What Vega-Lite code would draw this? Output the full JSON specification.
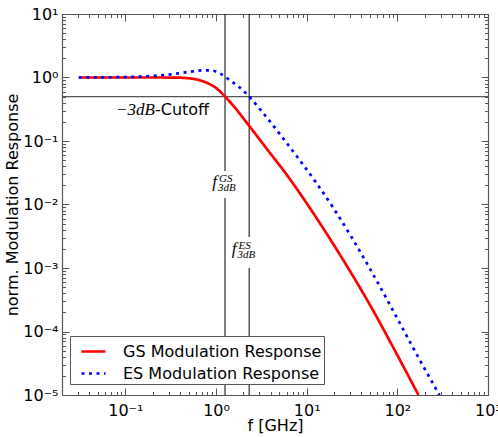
{
  "$schema": "https://vega.github.io/schema/vega-lite/v6.json",
  "width": 426,
  "height": 381,
  "autosize": {"type": "none"},
  "padding": {"left": 62, "top": 14, "right": 10, "bottom": 42},
  "background": "white",
  "config": {"view": {"stroke": null}, "font": "DejaVu Sans"},
  "resolve": {"axis": {"x": "independent", "y": "independent"}},
  "datasets": {
    "curves": [
      {"f": 0.0306, "v": 1.0, "series": "GS Modulation Response"},
      {"f": 0.1995, "v": 1.0, "series": "GS Modulation Response"},
      {"f": 0.355, "v": 0.997, "series": "GS Modulation Response"},
      {"f": 0.462, "v": 0.982, "series": "GS Modulation Response"},
      {"f": 0.597, "v": 0.938, "series": "GS Modulation Response"},
      {"f": 0.769, "v": 0.84, "series": "GS Modulation Response"},
      {"f": 1.0, "v": 0.684, "series": "GS Modulation Response"},
      {"f": 1.259, "v": 0.5, "series": "GS Modulation Response"},
      {"f": 1.585, "v": 0.347, "series": "GS Modulation Response"},
      {"f": 1.995, "v": 0.229, "series": "GS Modulation Response"},
      {"f": 2.512, "v": 0.1496, "series": "GS Modulation Response"},
      {"f": 3.548, "v": 0.0785, "series": "GS Modulation Response"},
      {"f": 6.31, "v": 0.0269, "series": "GS Modulation Response"},
      {"f": 10.0, "v": 0.01047, "series": "GS Modulation Response"},
      {"f": 13.74, "v": 0.00528, "series": "GS Modulation Response"},
      {"f": 25.12, "v": 0.001358, "series": "GS Modulation Response"},
      {"f": 50.12, "v": 0.000259, "series": "GS Modulation Response"},
      {"f": 100, "v": 0.0000424, "series": "GS Modulation Response"},
      {"f": 171, "v": 0.00001, "series": "GS Modulation Response"},
      {"f": 0.0306, "v": 1.0, "series": "ES Modulation Response"},
      {"f": 0.1, "v": 1.016, "series": "ES Modulation Response"},
      {"f": 0.1995, "v": 1.059, "series": "ES Modulation Response"},
      {"f": 0.3162, "v": 1.122, "series": "ES Modulation Response"},
      {"f": 0.5012, "v": 1.225, "series": "ES Modulation Response"},
      {"f": 0.7079, "v": 1.294, "series": "ES Modulation Response"},
      {"f": 0.8913, "v": 1.288, "series": "ES Modulation Response"},
      {"f": 1.122, "v": 1.148, "series": "ES Modulation Response"},
      {"f": 1.393, "v": 0.923, "series": "ES Modulation Response"},
      {"f": 1.799, "v": 0.708, "series": "ES Modulation Response"},
      {"f": 2.317, "v": 0.5, "series": "ES Modulation Response"},
      {"f": 3.162, "v": 0.2992, "series": "ES Modulation Response"},
      {"f": 5.012, "v": 0.1306, "series": "ES Modulation Response"},
      {"f": 8.26, "v": 0.0513, "series": "ES Modulation Response"},
      {"f": 12.59, "v": 0.02254, "series": "ES Modulation Response"},
      {"f": 19.95, "v": 0.00857, "series": "ES Modulation Response"},
      {"f": 31.62, "v": 0.00297, "series": "ES Modulation Response"},
      {"f": 50.12, "v": 0.000962, "series": "ES Modulation Response"},
      {"f": 88.1, "v": 0.000224, "series": "ES Modulation Response"},
      {"f": 158.5, "v": 0.0000473, "series": "ES Modulation Response"},
      {"f": 291, "v": 0.00001, "series": "ES Modulation Response"}
    ]
  },
  "layer": [
    {
      "data": {"values": [{}]},
      "mark": {"type": "rule", "color": "#555555", "strokeWidth": 1.2},
      "encoding": {"y": {"datum": 0.5, "type": "quantitative", "scale": {"type": "log", "domain": [0.00001, 10], "nice": false}, "axis": null}}
    },
    {
      "data": {"values": [{}]},
      "mark": {"type": "rule", "color": "black", "strokeWidth": 1},
      "encoding": {"x": {"datum": 1.257, "type": "quantitative", "scale": {"type": "log", "domain": [0.02, 1000], "nice": false}, "axis": null}}
    },
    {
      "data": {"values": [{}]},
      "mark": {"type": "rule", "color": "black", "strokeWidth": 1},
      "encoding": {"x": {"datum": 2.32, "type": "quantitative", "scale": {"type": "log", "domain": [0.02, 1000], "nice": false}, "axis": null}}
    },
    {
      "data": {"values": [{}]},
      "mark": {"type": "rect", "fill": "white", "stroke": null},
      "encoding": {
        "x": {"datum": 0.816, "type": "quantitative", "scale": {"type": "log", "domain": [0.02, 1000], "nice": false}, "axis": null},
        "x2": {"datum": 1.75},
        "y": {"datum": 0.0337, "type": "quantitative", "scale": {"type": "log", "domain": [0.00001, 10], "nice": false}, "axis": null},
        "y2": {"datum": 0.01265}
      }
    },
    {
      "data": {"values": [{}]},
      "mark": {"type": "rect", "fill": "white", "stroke": null},
      "encoding": {
        "x": {"datum": 1.323, "type": "quantitative", "scale": {"type": "log", "domain": [0.02, 1000], "nice": false}, "axis": null},
        "x2": {"datum": 2.767},
        "y": {"datum": 0.003076, "type": "quantitative", "scale": {"type": "log", "domain": [0.00001, 10], "nice": false}, "axis": null},
        "y2": {"datum": 0.001}
      }
    },
    {
      "data": {"name": "curves"},
      "mark": {"type": "line", "strokeWidth": 2.7, "clip": true, "interpolate": "monotone"},
      "encoding": {
        "x": {
          "field": "f", "type": "quantitative",
          "scale": {"type": "log", "domain": [0.02, 1000], "nice": false},
          "axis": {
            "orient": "bottom",
            "values": [0.03,0.04,0.05,0.06,0.07,0.08,0.09,0.1,0.2,0.3,0.4,0.5,0.6,0.7,0.8,0.9,1,2,3,4,5,6,7,8,9,10,20,30,40,50,60,70,80,90,100,200,300,400,500,600,700,800,900,1000],
            "labelExpr": "abs(log(datum.value)/LN10 - round(log(datum.value)/LN10)) < 0.001 ? '10' + ['⁻⁵','⁻⁴','⁻³','⁻²','⁻¹','⁰','¹','²','³'][round(log(datum.value)/LN10)+5] : ''",
            "tickSize": {"condition": {"test": "abs(log(datum.value)/LN10 - round(log(datum.value)/LN10)) < 0.001", "value": -7}, "value": -3.5},
            "labelPadding": 14,
            "labelFontSize": 16,
            "labelFont": "DejaVu Sans",
            "labelColor": "black",
            "labelFlush": false,
            "labelOverlap": false,
            "labelBound": false,
            "grid": false,
            "domainColor": "#555555",
            "domainWidth": 1.2,
            "tickColor": "#555555",
            "title": "f [GHz]",
            "titleFont": "DejaVu Sans",
            "titleFontSize": 16,
            "titleFontWeight": "normal",
            "titleColor": "black",
            "titlePadding": -4
          }
        },
        "y": {
          "field": "v", "type": "quantitative",
          "scale": {"type": "log", "domain": [0.00001, 10], "nice": false},
          "axis": {
            "orient": "left",
            "values": [0.00001,0.00002,0.00003,0.00004,0.00005,0.00006,0.00007,0.00008,0.00009,0.0001,0.0002,0.0003,0.0004,0.0005,0.0006,0.0007,0.0008,0.0009,0.001,0.002,0.003,0.004,0.005,0.006,0.007,0.008,0.009,0.01,0.02,0.03,0.04,0.05,0.06,0.07,0.08,0.09,0.1,0.2,0.3,0.4,0.5,0.6,0.7,0.8,0.9,1,2,3,4,5,6,7,8,9,10],
            "labelExpr": "abs(log(datum.value)/LN10 - round(log(datum.value)/LN10)) < 0.001 ? '10' + ['⁻⁵','⁻⁴','⁻³','⁻²','⁻¹','⁰','¹','²','³'][round(log(datum.value)/LN10)+5] : ''",
            "tickSize": {"condition": {"test": "abs(log(datum.value)/LN10 - round(log(datum.value)/LN10)) < 0.001", "value": -7}, "value": -3.5},
            "labelPadding": 11,
            "labelFontSize": 16,
            "labelFont": "DejaVu Sans",
            "labelColor": "black",
            "labelFlush": false,
            "labelOverlap": false,
            "labelBound": false,
            "grid": false,
            "domainColor": "#555555",
            "domainWidth": 1.2,
            "tickColor": "#555555",
            "title": "norm. Modulation Response",
            "titleFont": "DejaVu Sans",
            "titleFontSize": 16,
            "titleFontWeight": "normal",
            "titleColor": "black",
            "titlePadding": 2
          }
        },
        "color": {
          "field": "series", "type": "nominal",
          "scale": {"domain": ["GS Modulation Response", "ES Modulation Response"], "range": ["#ff0000", "#0000ff"]},
          "legend": {
            "orient": "none", "legendX": 8, "legendY": 322, "title": null,
            "fillColor": "white", "strokeColor": "#555555", "padding": 2, "cornerRadius": 0,
            "symbolType": "stroke", "symbolSize": 576, "symbolStrokeWidth": 2.7, "symbolOffset": 8,
            "labelFontSize": 16, "labelFont": "DejaVu Sans", "labelColor": "black", "labelOffset": 16,
            "rowPadding": 0, "labelLimit": 400
          }
        },
        "strokeDash": {
          "field": "series", "type": "nominal",
          "scale": {"domain": ["GS Modulation Response", "ES Modulation Response"], "range": [[1, 0], [3, 4.5]]},
          "legend": {
            "orient": "none", "legendX": 8, "legendY": 322, "title": null,
            "fillColor": "white", "strokeColor": "#555555", "padding": 2, "cornerRadius": 0,
            "symbolType": "stroke", "symbolSize": 576, "symbolStrokeWidth": 2.7, "symbolOffset": 8,
            "labelFontSize": 16, "labelFont": "DejaVu Sans", "labelColor": "black", "labelOffset": 16,
            "rowPadding": 0, "labelLimit": 400
          }
        }
      }
    },
    {
      "data": {"name": "curves"},
      "mark": {"type": "point", "opacity": 0},
      "encoding": {
        "x": {
          "field": "f", "type": "quantitative",
          "scale": {"type": "log", "domain": [0.02, 1000], "nice": false},
          "axis": {
            "orient": "top",
            "values": [0.03,0.04,0.05,0.06,0.07,0.08,0.09,0.1,0.2,0.3,0.4,0.5,0.6,0.7,0.8,0.9,1,2,3,4,5,6,7,8,9,10,20,30,40,50,60,70,80,90,100,200,300,400,500,600,700,800,900,1000],
            "labels": false,
            "tickSize": {"condition": {"test": "abs(log(datum.value)/LN10 - round(log(datum.value)/LN10)) < 0.001", "value": -7}, "value": -3.5},
            "grid": false,
            "domainColor": "#555555",
            "domainWidth": 1.2,
            "tickColor": "#555555",
            "title": null
          }
        },
        "y": {
          "field": "v", "type": "quantitative",
          "scale": {"type": "log", "domain": [0.00001, 10], "nice": false},
          "axis": {
            "orient": "right",
            "values": [0.00001,0.00002,0.00003,0.00004,0.00005,0.00006,0.00007,0.00008,0.00009,0.0001,0.0002,0.0003,0.0004,0.0005,0.0006,0.0007,0.0008,0.0009,0.001,0.002,0.003,0.004,0.005,0.006,0.007,0.008,0.009,0.01,0.02,0.03,0.04,0.05,0.06,0.07,0.08,0.09,0.1,0.2,0.3,0.4,0.5,0.6,0.7,0.8,0.9,1,2,3,4,5,6,7,8,9,10],
            "labels": false,
            "tickSize": {"condition": {"test": "abs(log(datum.value)/LN10 - round(log(datum.value)/LN10)) < 0.001", "value": -7}, "value": -3.5},
            "grid": false,
            "domainColor": "#555555",
            "domainWidth": 1.2,
            "tickColor": "#555555",
            "title": null
          }
        }
      }
    },
    {
      "data": {"values": [{}]},
      "mark": {"type": "text", "text": "−3dB", "font": "Liberation Serif", "fontStyle": "italic", "fontSize": 17, "align": "right", "baseline": "middle", "color": "black"},
      "encoding": {
        "x": {"datum": 0.212, "type": "quantitative", "scale": {"type": "log", "domain": [0.02, 1000], "nice": false}, "axis": null},
        "y": {"datum": 0.307, "type": "quantitative", "scale": {"type": "log", "domain": [0.00001, 10], "nice": false}, "axis": null}
      }
    },
    {
      "data": {"values": [{}]},
      "mark": {"type": "text", "text": "-Cutoff", "font": "DejaVu Sans", "fontSize": 16, "align": "left", "baseline": "middle", "color": "black"},
      "encoding": {
        "x": {"datum": 0.212, "type": "quantitative", "scale": {"type": "log", "domain": [0.02, 1000], "nice": false}, "axis": null},
        "y": {"datum": 0.307, "type": "quantitative", "scale": {"type": "log", "domain": [0.00001, 10], "nice": false}, "axis": null}
      }
    },
    {
      "data": {"values": [{}]},
      "mark": {"type": "text", "text": "f", "font": "Liberation Serif", "fontStyle": "italic", "fontSize": 17, "align": "right", "baseline": "alphabetic", "color": "black"},
      "encoding": {
        "x": {"datum": 1.026, "type": "quantitative", "scale": {"type": "log", "domain": [0.02, 1000], "nice": false}, "axis": null},
        "y": {"datum": 0.01888, "type": "quantitative", "scale": {"type": "log", "domain": [0.00001, 10], "nice": false}, "axis": null}
      }
    },
    {
      "data": {"values": [{}]},
      "mark": {"type": "text", "text": "GS", "font": "Liberation Serif", "fontStyle": "italic", "fontSize": 11, "align": "left", "baseline": "alphabetic", "dx": 2, "color": "black"},
      "encoding": {
        "x": {"datum": 1.026, "type": "quantitative", "scale": {"type": "log", "domain": [0.02, 1000], "nice": false}, "axis": null},
        "y": {"datum": 0.0226, "type": "quantitative", "scale": {"type": "log", "domain": [0.00001, 10], "nice": false}, "axis": null}
      }
    },
    {
      "data": {"values": [{}]},
      "mark": {"type": "text", "text": "3dB", "font": "Liberation Serif", "fontStyle": "italic", "fontSize": 11, "align": "left", "baseline": "alphabetic", "dx": 1, "color": "black"},
      "encoding": {
        "x": {"datum": 1.026, "type": "quantitative", "scale": {"type": "log", "domain": [0.02, 1000], "nice": false}, "axis": null},
        "y": {"datum": 0.01633, "type": "quantitative", "scale": {"type": "log", "domain": [0.00001, 10], "nice": false}, "axis": null}
      }
    },
    {
      "data": {"values": [{}]},
      "mark": {"type": "text", "text": "f", "font": "Liberation Serif", "fontStyle": "italic", "fontSize": 17, "align": "right", "baseline": "alphabetic", "color": "black"},
      "encoding": {
        "x": {"datum": 1.685, "type": "quantitative", "scale": {"type": "log", "domain": [0.02, 1000], "nice": false}, "axis": null},
        "y": {"datum": 0.00166, "type": "quantitative", "scale": {"type": "log", "domain": [0.00001, 10], "nice": false}, "axis": null}
      }
    },
    {
      "data": {"values": [{}]},
      "mark": {"type": "text", "text": "ES", "font": "Liberation Serif", "fontStyle": "italic", "fontSize": 11, "align": "left", "baseline": "alphabetic", "dx": 2, "color": "black"},
      "encoding": {
        "x": {"datum": 1.685, "type": "quantitative", "scale": {"type": "log", "domain": [0.02, 1000], "nice": false}, "axis": null},
        "y": {"datum": 0.00199, "type": "quantitative", "scale": {"type": "log", "domain": [0.00001, 10], "nice": false}, "axis": null}
      }
    },
    {
      "data": {"values": [{}]},
      "mark": {"type": "text", "text": "3dB", "font": "Liberation Serif", "fontStyle": "italic", "fontSize": 11, "align": "left", "baseline": "alphabetic", "dx": 1, "color": "black"},
      "encoding": {
        "x": {"datum": 1.685, "type": "quantitative", "scale": {"type": "log", "domain": [0.02, 1000], "nice": false}, "axis": null},
        "y": {"datum": 0.001435, "type": "quantitative", "scale": {"type": "log", "domain": [0.00001, 10], "nice": false}, "axis": null}
      }
    }
  ]
}
